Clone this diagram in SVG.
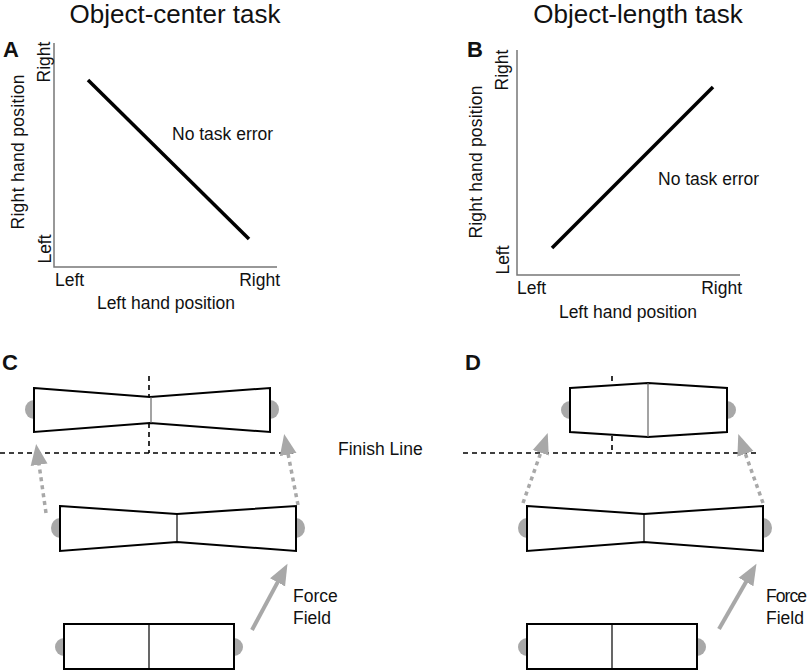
<svg xmlns="http://www.w3.org/2000/svg" width="810" height="670" viewBox="0 0 810 670">
<defs>
<style>
text{font-family:"Liberation Sans",Arial,sans-serif;fill:#111}
.t{font-size:26px}
.lab{font-size:22px;font-weight:bold}
.s{font-size:17.5px}
.ax{stroke:#777;stroke-width:1.5;fill:none}
.ln{stroke:#000;stroke-width:3.5;fill:none}
.obj{fill:#fff;stroke:#000;stroke-width:2}
.div{stroke:#000;stroke-width:1.2}
.divg{stroke:#666;stroke-width:1.2}
.hand{fill:#a8a8a8}
.fin{stroke:#000;stroke-width:1.6;stroke-dasharray:5 4;fill:none}
.ctr{stroke:#000;stroke-width:1.6;stroke-dasharray:5 4;fill:none}
.darr{stroke:#a8a8a8;stroke-width:3.5;stroke-dasharray:4 4;fill:none}
.farr{stroke:#a8a8a8;stroke-width:4;fill:none}
</style>
<marker id="ah" markerUnits="userSpaceOnUse" markerWidth="22" markerHeight="18" refX="2" refY="9" orient="auto"><path d="M0,0.5 L21,9 L0,17.5 z" fill="#a8a8a8"/></marker>
</defs>

<g id="panelA">
<text class="t" x="175" y="23" text-anchor="middle">Object-center task</text>
<text class="lab" x="3" y="57">A</text>
<path class="ax" d="M54,43 V267 H277"/>
<line class="ln" x1="88" y1="80" x2="249" y2="239"/>
<text class="s" x="172" y="140">No task error</text>
<text class="s" x="55" y="286">Left</text>
<text class="s" x="280" y="286" text-anchor="end">Right</text>
<text class="s" x="166" y="309" text-anchor="middle">Left hand position</text>
<text class="s" transform="translate(50,62) rotate(-90)" text-anchor="middle">Right</text>
<text class="s" transform="translate(51,249) rotate(-90)" text-anchor="middle">Left</text>
<text class="s" transform="translate(24,152) rotate(-90)" text-anchor="middle" textLength="155">Right hand position</text>
</g>

<g id="panelB">
<text class="t" x="638" y="23" text-anchor="middle">Object-length task</text>
<text class="lab" x="467" y="57">B</text>
<path class="ax" d="M517,50 V275 H740"/>
<line class="ln" x1="552" y1="248" x2="713" y2="87"/>
<text class="s" x="658" y="185">No task error</text>
<text class="s" x="517" y="294">Left</text>
<text class="s" x="742" y="294" text-anchor="end">Right</text>
<text class="s" x="628" y="318" text-anchor="middle">Left hand position</text>
<text class="s" transform="translate(508,70) rotate(-90)" text-anchor="middle">Right</text>
<text class="s" transform="translate(509,260) rotate(-90)" text-anchor="middle">Left</text>
<text class="s" transform="translate(482,162) rotate(-90)" text-anchor="middle" textLength="153">Right hand position</text>
</g>

<g id="panelC">
<text class="lab" x="2" y="370">C</text>
<g id="c-top">
<path class="hand" d="M34,400 A9,9.5 0 0 0 34,419 z"/>
<path class="hand" d="M270,400 A9,9.5 0 0 1 270,419 z"/>
<polygon class="obj" points="34,388 150,397 270,388 270,432 150,423 34,432"/>
<line class="divg" x1="151" y1="397" x2="151" y2="423"/>
<line class="ctr" x1="149" y1="376" x2="149" y2="397"/>
<line class="ctr" x1="149" y1="423" x2="149" y2="453"/>
</g>
<g id="c-mid">
<path class="hand" d="M60,518 A9,10 0 0 0 60,538 z"/>
<path class="hand" d="M296,518 A9,10 0 0 1 296,538 z"/>
<polygon class="obj" points="60,506 177,514 296,506 296,551 177,542 60,551"/>
<line class="div" x1="177" y1="514" x2="177" y2="542"/>
</g>
<g id="c-bot">
<path class="hand" d="M64,638 A9,9 0 0 0 64,656 z"/>
<path class="hand" d="M234,638 A9,9 0 0 1 234,656 z"/>
<rect class="obj" x="64" y="624" width="170" height="45"/>
<line class="div" x1="149" y1="624" x2="149" y2="669"/>
</g>
<text class="s" x="293" y="602">Force</text>
<text class="s" x="293" y="624">Field</text>
</g>

<g id="panelD">
<text class="lab" x="465" y="370">D</text>
<g id="d-top">
<path class="hand" d="M570,401 A9,9 0 0 0 570,419 z"/>
<path class="hand" d="M727,401 A9,9 0 0 1 727,419 z"/>
<polygon class="obj" points="570,388 648,383 727,388 727,432 648,437 570,432"/>
<line class="divg" x1="648" y1="383" x2="648" y2="437"/>
<line class="ctr" x1="612" y1="376" x2="612" y2="385"/>
<line class="ctr" x1="612" y1="436" x2="612" y2="453"/>
</g>
<g id="d-mid">
<path class="hand" d="M527,518 A9,10 0 0 0 527,538 z"/>
<path class="hand" d="M763,518 A9,10 0 0 1 763,538 z"/>
<polygon class="obj" points="527,506 644,514 763,506 763,551 644,542 527,551"/>
<line class="div" x1="644" y1="514" x2="644" y2="542"/>
</g>
<g id="d-bot">
<path class="hand" d="M527,638 A9,9 0 0 0 527,656 z"/>
<path class="hand" d="M697,638 A9,9 0 0 1 697,656 z"/>
<rect class="obj" x="527" y="624" width="170" height="45"/>
<line class="div" x1="612" y1="624" x2="612" y2="669"/>
</g>
<text class="s" x="766" y="602" textLength="41">Force</text>
<text class="s" x="766" y="624">Field</text>
</g>

<g id="finish">
<line class="fin" x1="0" y1="453" x2="295" y2="453"/>
<line class="fin" x1="463" y1="453" x2="760" y2="453"/>
<text class="s" x="338" y="455">Finish Line</text>
</g>

<g id="connectors">
<line class="darr" x1="46" y1="513" x2="38.8" y2="462.8" marker-end="url(#ah)"/>
<line class="darr" x1="298" y1="505" x2="287.8" y2="452.6" marker-end="url(#ah)"/>
<line class="darr" x1="523" y1="503" x2="541.4" y2="450.9" marker-end="url(#ah)"/>
<line class="darr" x1="763" y1="503" x2="744.7" y2="451.9" marker-end="url(#ah)"/>
<line class="farr" x1="252" y1="630" x2="278.5" y2="580.6" marker-end="url(#ah)"/>
<line class="farr" x1="719" y1="629" x2="747" y2="580.3" marker-end="url(#ah)"/>
</g>
</svg>
